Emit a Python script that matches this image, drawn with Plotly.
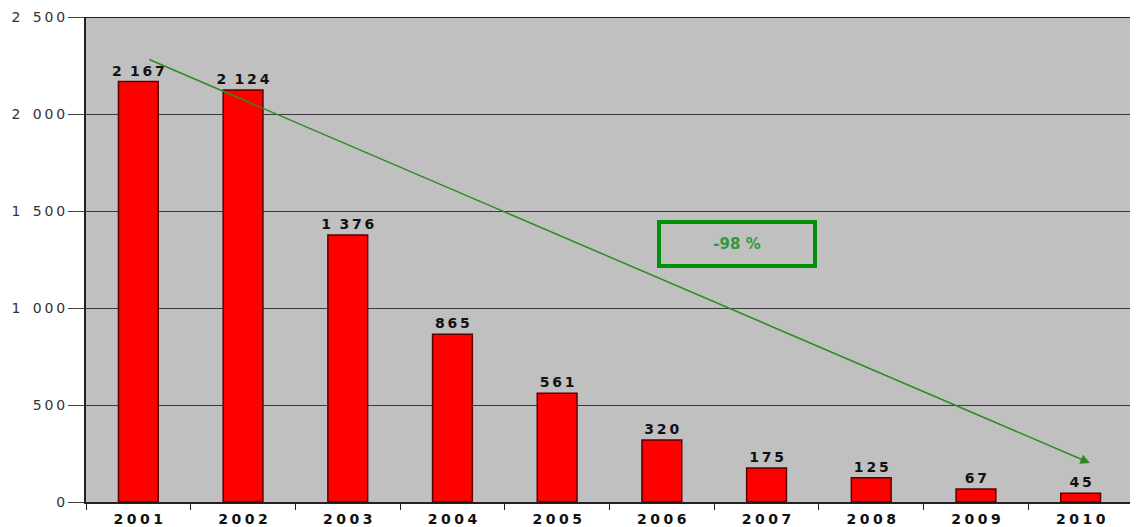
import plotly.graph_objects as go

years = ["2001", "2002", "2003", "2004", "2005", "2006", "2007", "2008", "2009", "2010"]
values = [2167, 2124, 1376, 865, 561, 320, 175, 125, 67, 45]
y_ticks = [0, 500, 1000, 1500, 2000, 2500]
trend_start = (0.09, 2284)
trend_end = (9.09, 201)
change_label = "-98 %"


def spaced(s, gap="\u2005"):
    # the original uses wide letter spacing
    return gap.join(s)


def fmt(v, sep="\u2002"):
    return "{:,}".format(v).replace(",", sep)


fig = go.Figure()

fig.add_bar(
    x=years,
    y=values,
    width=0.38,
    marker_color="#ff0000",
    marker_line_color="#5a0000",
    marker_line_width=1.5,
    text=["<b>" + spaced(fmt(v, "\u2009"), "\u2009") + "</b>" for v in values],
    texttemplate="%{text}",
    textposition="outside",
    constraintext="none",
    cliponaxis=False,
    textfont=dict(family="DejaVu Sans", size=14, color="#111"),
    showlegend=False,
)

# trend arrow
fig.add_annotation(
    x=trend_end[0], y=trend_end[1], ax=trend_start[0], ay=trend_start[1],
    xref="x", yref="y", axref="x", ayref="y",
    showarrow=True, arrowhead=2, arrowsize=1.3, arrowwidth=1.5,
    arrowcolor="#2e8b22", text="",
)

fig.add_annotation(
    x=5.72, y=1330, xref="x", yref="y",
    text="<b>" + change_label + "</b>", showarrow=False,
    font=dict(family="DejaVu Sans", size=15, color="#2e9a3a"),
    bordercolor="#00900a", borderwidth=4, borderpad=9,
    width=134, height=22,
)

# page body has an 8px margin, so the figure is shifted by 8px
fig.update_layout(
    width=1130, height=519,
    margin=dict(l=78, r=5, t=9, b=25),
    plot_bgcolor="#c0c0c0",
    paper_bgcolor="white",
    bargap=0.62,
    font=dict(family="DejaVu Sans", color="#222"),
    xaxis=dict(
        type="category",
        automargin=False,
        tickson="boundaries",
        ticks="outside", ticklen=6, tickcolor="#222", tickwidth=1,
        ticklabelstandoff=3,
        showline=True, linecolor="#222", linewidth=2,
        showgrid=False,
        tickfont=dict(size=14, family="DejaVu Sans", color="#111"),
    ),
    yaxis=dict(
        automargin=False,
        range=[0, 2500],
        tickvals=y_ticks,
        ticktext=[spaced(fmt(v), "\u2009") for v in y_ticks],
        ticks="outside", ticklen=16, tickcolor="#444",
        showline=True, linecolor="#222", linewidth=2, mirror=False,
        showgrid=True, gridcolor="#3a3a3a", gridwidth=1,
        zeroline=False,
        tickfont=dict(size=14, color="#333"),
    ),
)
fig.update_xaxes(tickvals=years, ticktext=["<b>" + spaced(y) + "</b>" for y in years])

# top border line of plot area
fig.add_shape(type="line", xref="paper", yref="y", x0=0, x1=1, y0=2500, y1=2500,
              line=dict(color="#222", width=2))

fig.write_html("out.html")
